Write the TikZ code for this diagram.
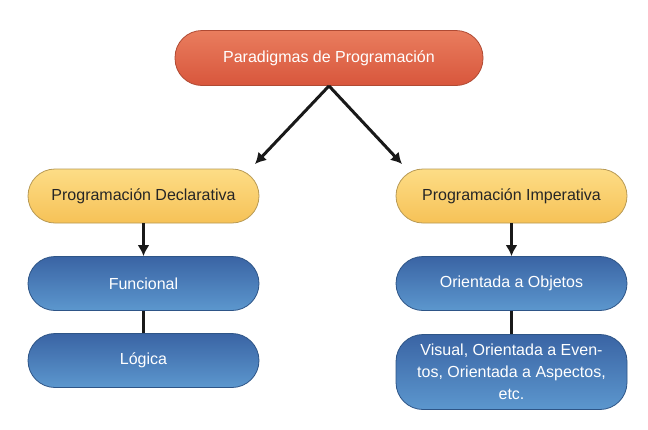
\documentclass[tikz,border=0pt]{standalone}
\usepackage{fontspec}
\setmainfont{Liberation Sans}
\usetikzlibrary{arrows.meta}

\definecolor{rojoTop}{HTML}{E97D5E}
\definecolor{rojoBot}{HTML}{D8563C}
\definecolor{rojoBorde}{HTML}{B04A33}
\definecolor{amaTop}{HTML}{FDDD86}
\definecolor{amaBot}{HTML}{F6C257}
\definecolor{amaBorde}{HTML}{B89A55}
\definecolor{azulTop}{HTML}{3A64A4}
\definecolor{azulBot}{HTML}{5C97CE}
\definecolor{azulBorde}{HTML}{2E5587}

\begin{document}
\begin{tikzpicture}[
  x=1pt, y=-1pt,
  box/.style = {draw, rounded corners=27pt, line width=0.8pt, align=center, font=\fontsize{16}{22}\selectfont},
  root/.style = {box, minimum width=308pt, minimum height=55pt, top color=rojoTop, bottom color=rojoBot, draw=rojoBorde, text=white},
  branch/.style = {box, minimum width=231pt, minimum height=54pt, top color=amaTop, bottom color=amaBot, draw=amaBorde, text=black!85},
  leaf/.style = {box, minimum width=231pt, minimum height=54pt, top color=azulTop, bottom color=azulBot, draw=azulBorde, text=white},
  link/.style = {line width=3pt, draw, black!90, -{Latex[length=11pt,width=12pt]}}
]
  \fill[white] (0,0) rectangle (648,429);

  \node[root] (paradigmas) at (329,58) {Paradigmas de Programación};

  \node[branch] (declarativa) at (143.5,196) {Programación Declarativa};
  \node[branch] (imperativa) at (511.5,196) {Programación Imperativa};

  \node[leaf] (funcional) at (143.5,283.5) {Funcional};
  \node[leaf] (logica) at (143.5,360.5) {Lógica};
  \node[leaf] (objetos) at (511.5,283.5) {Orientada a Objetos};
  \node[leaf, minimum height=75pt] (otros) at (511.5,372)
    {Visual, Orientada a Even-\\tos, Orientada a Aspectos,\\etc.};

  \coordinate (haciaDecl) at (255,164);
  \coordinate (haciaImp) at (402,164);

  \draw[link] (paradigmas.south) -- (haciaDecl);
  \draw[link] (paradigmas.south) -- (haciaImp);
  \draw[link] (declarativa) -- (funcional);
  \draw[link] (imperativa) -- (objetos);
  \draw[link, -] (funcional) -- (logica);
  \draw[link, -] (objetos) -- (otros);
\end{tikzpicture}
\end{document}
